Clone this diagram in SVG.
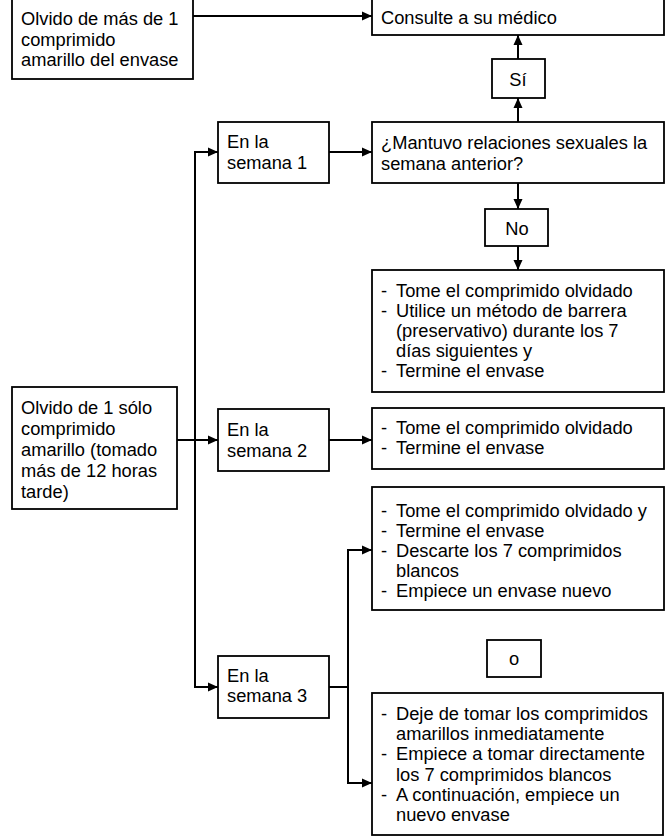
<svg xmlns="http://www.w3.org/2000/svg" width="671" height="839" viewBox="0 0 671 839">
<style>
.b{fill:#fff;stroke:#000;stroke-width:1.8}
.c{fill:none;stroke:#000;stroke-width:2}
text{font-family:"Liberation Sans",Arial,sans-serif;font-size:18.3px;fill:#000}
.m{text-anchor:middle}
</style>
<defs>
<marker id="ah" markerUnits="userSpaceOnUse" markerWidth="12" markerHeight="12" viewBox="0 0 12 12" refX="11" refY="6" orient="auto">
<path d="M1,1.5 L11,6 L1,10.5 Z" fill="#000"/>
</marker>
</defs>
<rect width="671" height="839" fill="#fff"/>
<g id="connectors">
<path class="c" d="M193,16 H372" marker-end="url(#ah)"/>
<path class="c" d="M518,122 V98" marker-end="url(#ah)"/>
<path class="c" d="M518,59 V35" marker-end="url(#ah)"/>
<path class="c" d="M329,152 H372" marker-end="url(#ah)"/>
<path class="c" d="M518,183 V209" marker-end="url(#ah)"/>
<path class="c" d="M518,246 V270" marker-end="url(#ah)"/>
<path class="c" d="M195,440 V152 H218" marker-end="url(#ah)"/>
<path class="c" d="M177,440 H218" marker-end="url(#ah)"/>
<path class="c" d="M195,440 V687 H218" marker-end="url(#ah)"/>
<path class="c" d="M329,440 H372" marker-end="url(#ah)"/>
<path class="c" d="M329,687 H348"/>
<path class="c" d="M348,687 V550 H372" marker-end="url(#ah)"/>
<path class="c" d="M348,687 V783 H372" marker-end="url(#ah)"/>
</g>
<g id="olvido-mas">
<rect class="b" x="12" y="-5" width="181" height="84"/>
<text x="21" y="25">Olvido de más de 1</text>
<text x="21" y="46">comprimido</text>
<text x="21" y="66">amarillo del envase</text>
</g>
<g id="consulte">
<rect class="b" x="372" y="-5" width="292" height="40"/>
<text x="381" y="24">Consulte a su médico</text>
</g>
<g id="si">
<rect class="b" x="492" y="59" width="53" height="39"/>
<text class="m" x="518" y="86">Sí</text>
</g>
<g id="mantuvo">
<rect class="b" x="372" y="122" width="292" height="61"/>
<text x="381" y="149">¿Mantuvo relaciones sexuales la</text>
<text x="381" y="170">semana anterior?</text>
</g>
<g id="semana1">
<rect class="b" x="218" y="122" width="111" height="61"/>
<text x="227" y="148">En la</text>
<text x="227" y="169">semana 1</text>
</g>
<g id="no">
<rect class="b" x="485" y="209" width="63" height="37"/>
<text class="m" x="517" y="235">No</text>
</g>
<g id="res-semana1">
<rect class="b" x="372" y="270" width="292" height="122"/>
<text x="381" y="297">-</text><text x="396" y="297">Tome el comprimido olvidado</text>
<text x="381" y="317">-</text><text x="396" y="317">Utilice un método de barrera</text>
<text x="396" y="337">(preservativo) durante los 7</text>
<text x="396" y="357">días siguientes y</text>
<text x="381" y="377">-</text><text x="396" y="377">Termine el envase</text>
</g>
<g id="olvido-uno">
<rect class="b" x="12" y="387" width="165" height="122"/>
<text x="21" y="414">Olvido de 1 sólo</text>
<text x="21" y="435">comprimido</text>
<text x="21" y="456">amarillo (tomado</text>
<text x="21" y="477">más de 12 horas</text>
<text x="21" y="498">tarde)</text>
</g>
<g id="semana2">
<rect class="b" x="218" y="409" width="111" height="62"/>
<text x="227" y="436">En la</text>
<text x="227" y="457">semana 2</text>
</g>
<g id="res-semana2">
<rect class="b" x="372" y="408" width="292" height="61"/>
<text x="381" y="434">-</text><text x="396" y="434">Tome el comprimido olvidado</text>
<text x="381" y="454">-</text><text x="396" y="454">Termine el envase</text>
</g>
<g id="res-semana3-a">
<rect class="b" x="372" y="487" width="292" height="123"/>
<text x="381" y="517">-</text><text x="396" y="517">Tome el comprimido olvidado y</text>
<text x="381" y="537">-</text><text x="396" y="537">Termine el envase</text>
<text x="381" y="557">-</text><text x="396" y="557">Descarte los 7 comprimidos</text>
<text x="396" y="577">blancos</text>
<text x="381" y="597">-</text><text x="396" y="597">Empiece un envase nuevo</text>
</g>
<g id="o">
<rect class="b" x="487" y="640" width="54" height="37"/>
<text class="m" x="514" y="665">o</text>
</g>
<g id="semana3">
<rect class="b" x="218" y="656" width="111" height="62"/>
<text x="227" y="682">En la</text>
<text x="227" y="702">semana 3</text>
</g>
<g id="res-semana3-b">
<rect class="b" x="372" y="693" width="291" height="142"/>
<text x="381" y="720">-</text><text x="396" y="720">Deje de tomar los comprimidos</text>
<text x="396" y="740">amarillos inmediatamente</text>
<text x="381" y="760">-</text><text x="396" y="760">Empiece a tomar directamente</text>
<text x="396" y="781">los 7 comprimidos blancos</text>
<text x="381" y="801">-</text><text x="396" y="801">A continuación, empiece un</text>
<text x="396" y="821">nuevo envase</text>
</g>
</svg>
